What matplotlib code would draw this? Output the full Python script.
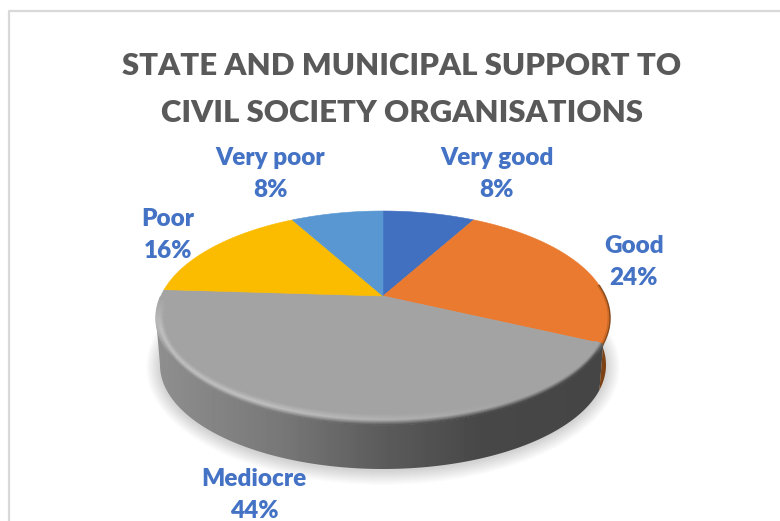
import numpy as np
import matplotlib
matplotlib.use('Agg')
import matplotlib.pyplot as plt
from matplotlib.collections import LineCollection
from matplotlib.patches import Ellipse, Polygon

title_lines = ['STATE AND MUNICIPAL SUPPORT TO', 'CIVIL SOCIETY ORGANISATIONS']
categories = ['Very good', 'Good', 'Mediocre', 'Poor', 'Very poor']
shares = [8, 24, 44, 16, 8]
slice_colors = ['#4170c0', '#ea7a30', '#a3a3a3', '#fbbc00', '#5997d3']

# disc outline in pixels, the apex sits above the ellipse centre because of perspective
CX, CY, RX, RY = 383.0, 318.0, 227.0, 107.0
APEX_Y = 296.0
BX, BY, BRX, BRY = 383.0, 365.0, 223.0, 104.0
k = (CY - APEX_Y) / RY


def disc_point(deg, r=1.0):
    # clockwise degrees from twelve o'clock -> screen position on the tilted disc
    a = np.radians(deg)
    u, v = r * np.sin(a), r * np.cos(a)
    w = 1 + k * v
    return CX + RX * u * np.sqrt(1 - k ** 2) / w, CY - RY * (v + k) / w


def arc(cx, cy, rx, ry, phi):
    return cx + rx * np.cos(phi), cy + ry * np.sin(phi)


fig = plt.figure(figsize=(7.8, 5.21), dpi=100)
ax = fig.add_axes([0, 0, 1, 1])
ax.set_axis_off()

# chart frame runs off the right and bottom of the canvas
ax.plot([9, 9, 780], [521, 11, 11], color='#d9d9d9', lw=1.6, zorder=1)

# soft shadow under the disc
for grow in np.linspace(14, 0, 15):
    ax.add_patch(Ellipse((BX, BY + 2), 2 * (BRX + grow), 2 * (BRY + grow), fc='#000000',
                         ec='none', alpha=0.012, zorder=2))

edges = np.cumsum([0] + shares) / sum(shares) * 360
grey_start, grey_end = edges[2], edges[3]
px, py = disc_point(grey_start)
phi_end = np.arctan2((py - CY) / RY, (px - CX) / RX)

# side wall of the grey slice, shaded left to right
phi = np.linspace(phi_end, np.pi, 200)
bx, by = arc(BX, BY, BRX, BRY, phi)
tx, ty = arc(CX, CY, RX, RY, phi)
wall = Polygon(np.column_stack([np.r_[bx, tx[::-1]], np.r_[by, ty[::-1]]]), fc='none', ec='none')
ax.add_patch(wall)
stop_x = [155, 280, 380, 480, 610]
stop_v = [0.56, 0.47, 0.36, 0.28, 0.27]
grad_x = np.arange(150, 615)
grad = np.interp(grad_x, stop_x, stop_v)
img = ax.imshow(grad[None, :], cmap='gray', vmin=0, vmax=1, aspect='auto',
                extent=(150, 615, 480, 280), zorder=3)
img.set_clip_path(wall)

# thin orange side wall at the far right
phi2 = np.linspace(-0.25, phi_end, 60)
bx2, by2 = arc(BX, BY, BRX, BRY, phi2)
tx2, ty2 = arc(CX, CY, RX, RY, phi2)
ax.add_patch(Polygon(np.column_stack([np.r_[bx2, tx2[::-1]], np.r_[by2, ty2[::-1]]]),
                     fc='#7c4114', ec='none', zorder=3))

# top faces
for i, color in enumerate(slice_colors):
    degs = np.linspace(edges[i], edges[i + 1], 120)
    sx, sy = disc_point(degs)
    ax.fill(np.r_[CX, sx], np.r_[APEX_Y, sy], fc=color, ec=color, lw=0.4, zorder=4)

# bevel on the grey rim: flat face -> highlight -> wall colour
face_v = 0.64
glow_v = 0.76
band = np.linspace(0, 1, 17)
for s in band:
    ring_rx, ring_ry = RX - 8 * (1 - s), RY - 11 * (1 - s)
    phi_r = np.linspace(phi_end, np.pi + 0.2, 240)
    xs, ys = arc(CX, CY, ring_rx, ring_ry, phi_r)
    pts = np.column_stack([xs, ys])
    segs = np.stack([pts[:-1], pts[1:]], axis=1)
    mid_x = (xs[:-1] + xs[1:]) / 2
    mid_phi = (phi_r[:-1] + phi_r[1:]) / 2
    wall_v = np.interp(mid_x, stop_x, stop_v)
    # highlight dies away towards the right and past the left extreme
    glow = np.clip((520 - mid_x) / 260, 0, 1) * np.clip((np.pi + 0.2 - mid_phi) / 0.3, 0, 1)
    # near the left extreme the rim faces the viewer less, so it stays light
    facing = np.clip(np.sin(mid_phi) / 0.35, 0, 1)
    top_v = face_v + (glow_v - face_v) * glow
    if s < 0.55:
        v = face_v + (top_v - face_v) * (s / 0.55)
    else:
        v = top_v + (wall_v - top_v) * ((s - 0.55) / 0.45) * facing
    cols = np.column_stack([v, v, v])
    ax.add_collection(LineCollection(segs, colors=cols, linewidths=1.0, capstyle='butt', zorder=5))

# dark outer edge on the orange slice
degs = np.linspace(84, grey_start, 50)
for r, c, a in [(1.0, '#7c4114', 0.85), (0.993, '#a85a20', 0.45)]:
    ex, ey = disc_point(degs, r)
    ax.plot(ex, ey, color=c, alpha=a, lw=1.1, zorder=5)

# text
font = ['Lato', 'DejaVu Sans']
for line, y in zip(title_lines, [75, 122]):
    ax.text(402, y, line, ha='center', va='baseline', fontsize=22.4, fontweight='heavy',
            color='#595959', family=font, zorder=6)

label_x = [497, 634, 254, 168, 270]
label_y = [165, 253, 486, 226, 165]
for name, val, x, y in zip(categories, shares, label_x, label_y):
    ax.text(x, y, name, ha='center', va='baseline', fontsize=17.5, fontweight='heavy',
            color='#4472c4', family=font, zorder=6)
    ax.text(x, y + 32, '%d%%' % val, ha='center', va='baseline', fontsize=17.5, fontweight='heavy',
            color='#4472c4', family=font, zorder=6)

ax.set_xlim(0, 780)
ax.set_ylim(521, 0)
fig.savefig('out.png', dpi=100, facecolor='white')
